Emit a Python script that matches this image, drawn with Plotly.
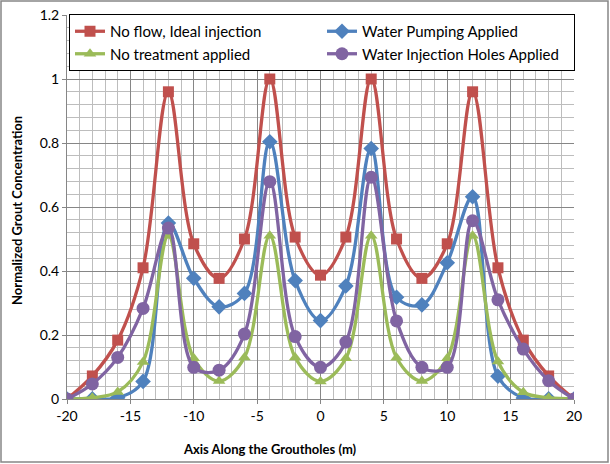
import plotly.graph_objects as go

x_pos = [-20, -18, -16, -14, -12, -10, -8, -6, -4, -2, 0, 2, 4, 6, 8, 10, 12, 14, 16, 18, 20]

no_flow_ideal = [0.0, 0.072, 0.184, 0.41, 0.96, 0.485, 0.377, 0.50, 1.0, 0.506, 0.387, 0.506, 1.0, 0.50, 0.377, 0.485, 0.96, 0.41, 0.184, 0.072, 0.0]
water_pumping = [0.0, 0.001, 0.004, 0.055, 0.55, 0.377, 0.288, 0.33, 0.804, 0.37, 0.245, 0.353, 0.783, 0.318, 0.294, 0.426, 0.632, 0.071, 0.003, 0.001, 0.0]
no_treatment = [0.0, 0.004, 0.022, 0.116, 0.51, 0.127, 0.056, 0.13, 0.51, 0.13, 0.055, 0.127, 0.51, 0.129, 0.056, 0.127, 0.51, 0.117, 0.021, 0.004, 0.0]
water_injection = [0.0, 0.047, 0.13, 0.283, 0.534, 0.099, 0.09, 0.203, 0.679, 0.195, 0.099, 0.178, 0.693, 0.244, 0.099, 0.099, 0.557, 0.31, 0.156, 0.057, 0.0]

x_ticks = [-20, -15, -10, -5, 0, 5, 10, 15, 20]
x_ticktext = ["-20", "-15", "-10", "-5", "0", "5", "10", "15", "20"]

series = [
    ("No flow, Ideal injection", no_flow_ideal, "#C0504D", "square", 11),
    ("Water Pumping Applied", water_pumping, "#4F81BD", "diamond", 12),
    ("No treatment applied", no_treatment, "#9BBB59", "triangle-up", 11),
    ("Water Injection Holes Applied", water_injection, "#8064A2", "circle", 13),
]

FONT = "Lato, 'Liberation Sans', sans-serif"

fig = go.Figure()
for name, vals, color, sym, size in series:
    fig.add_trace(go.Scatter(
        x=x_pos, y=vals, name=name, mode="lines+markers",
        line=dict(color=color, width=3.3, shape="spline", smoothing=1.0),
        marker=dict(symbol=sym, size=size, color=color),
    ))

L, R, T, B = 67, 36, 15, 65
W, H = 610, 464
pw, ph = W - L - R, H - T - B

def px_x(p):
    return (p - L) / pw

def px_y(p):
    return (H - B - p) / ph

shapes = [
    # outer chart border
    dict(type="rect", xref="paper", yref="paper",
         x0=px_x(1), x1=px_x(W - 2), y0=px_y(H - 2), y1=px_y(1),
         line=dict(color="#868686", width=1.5), fillcolor="rgba(0,0,0,0)", layer="above"),
]

annotations = [
    dict(text="<b>Axis Along the Groutholes (m)</b>", xref="paper", yref="paper",
         x=px_x(270), y=px_y(449), xanchor="center", yanchor="middle",
         showarrow=False, font=dict(family=FONT, size=13, color="black")),
    dict(text="<b>Normalized Grout Concentration</b>", xref="paper", yref="paper",
         x=px_x(17), y=px_y(211), xanchor="center", yanchor="middle", textangle=-90,
         showarrow=False, font=dict(family=FONT, size=13, color="black")),
]

fig.update_layout(
    width=W, height=H,
    margin=dict(l=L, r=R, t=T, b=B, pad=0, autoexpand=False),
    paper_bgcolor="white", plot_bgcolor="white",
    font=dict(family=FONT, size=14, color="black"),
    showlegend=True,
    legend=dict(
        orientation="h", x=px_x(69), y=px_y(14),
        xanchor="left", yanchor="top",
        bgcolor="white", bordercolor="black", borderwidth=1,
        font=dict(family=FONT, size=15, color="black"),
        entrywidth=207, entrywidthmode="pixels",
        tracegroupgap=0,
    ),
    shapes=shapes,
    annotations=annotations,
    xaxis=dict(
        range=[-20, 20], tickvals=x_ticks, ticktext=x_ticktext,
        showgrid=True, gridcolor="#868686", gridwidth=1,
        minor=dict(dtick=1, tick0=0, showgrid=True, gridcolor="#BDBDBD", gridwidth=1),
        showline=True, linecolor="#868686", linewidth=1,
        ticks="outside", ticklen=4, tickcolor="#868686",
        zeroline=False,
        tickfont=dict(family=FONT, size=14),
    ),
    yaxis=dict(
        range=[0, 1.2], dtick=0.2, tick0=0,
        showgrid=True, gridcolor="#868686", gridwidth=1,
        minor=dict(dtick=0.04, tick0=0, showgrid=True, gridcolor="#BDBDBD", gridwidth=1),
        showline=True, linecolor="#868686", linewidth=1,
        ticks="outside", ticklen=4, tickcolor="#868686",
        zeroline=False,
        tickfont=dict(family=FONT, size=14),
    ),
)

fig.write_html("out.html")
